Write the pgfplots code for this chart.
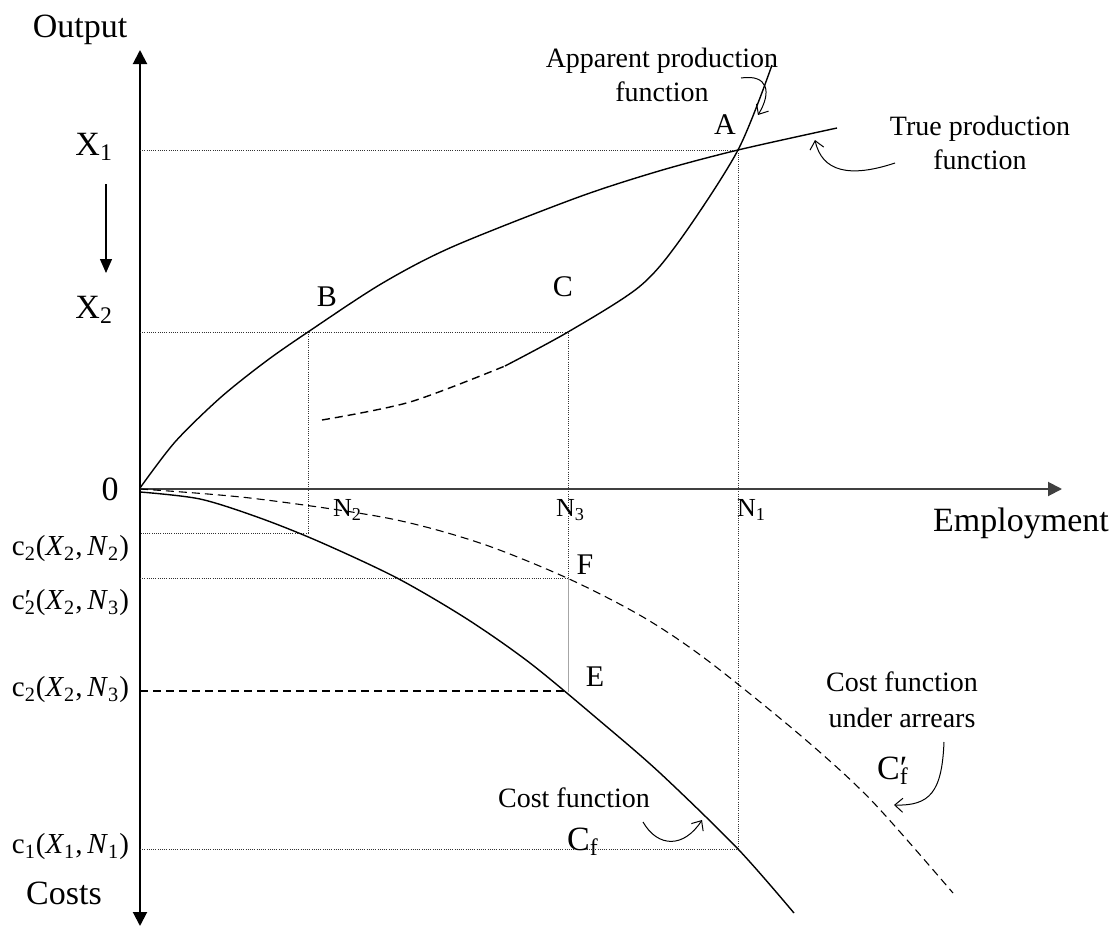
\documentclass[border=0pt]{standalone}
\usepackage{pgfplots}
\pgfplotsset{compat=1.18}
\usepackage{fontspec}
\setmainfont{Liberation Serif}
\usetikzlibrary{arrows.meta}
\newcommand{\fs}[1]{\fontsize{#1}{#1}\selectfont}
\begin{document}
\begin{tikzpicture}
\begin{axis}[hide axis, scale only axis, width=558pt, height=463.5pt,
  xmin=0, xmax=1116, ymin=0, ymax=927, y dir=reverse, clip=false,
  dotl/.style={line width=0.5pt, black!80, dash pattern=on 0.5pt off 0.6pt},
  every node/.style={inner sep=0pt}]
\coordinate (bl) at (axis cs:0,927);
\coordinate (tr) at (axis cs:1116,0);
% axes
\draw[line width=1pt, -{Triangle[width=7pt,length=7pt]}] (axis cs:140,489) -- (axis cs:140,50);
\draw[line width=1pt, -{Triangle[width=7pt,length=7pt]}] (axis cs:140,489) -- (axis cs:140,926);
\draw[line width=1pt, black!75, -{Triangle[width=7pt,length=7pt]}] (axis cs:140,489) -- (axis cs:1062,489);
\draw[line width=0.6pt, -{Triangle[width=6pt,length=7pt]}] (axis cs:106,184) -- (axis cs:106,273);
% guide lines
\addplot[dotl] coordinates {(140,150) (738,150) (738,849)};
\addplot[dotl] coordinates {(140,332) (568,332) (568,578)};
\addplot[dotl] coordinates {(308,332) (308,533) (140,533)};
\addplot[dotl] coordinates {(140,578) (568,578)};
\addplot[line width=0.5pt, black!35] coordinates {(568,578) (568,692)};
\addplot[dotl] coordinates {(140,849) (738,849)};
\addplot[line width=0.6pt, black, dash pattern=on 4pt off 2.5pt] coordinates {(140,691) (567,691)};
% true production function
\addplot[line width=0.7pt, smooth] coordinates {
(140,488) (175,442) (220,398) (265,362) (308,332) (381,284) (452,247)
(576,198) (659,171) (738,150) (837,128)};
% apparent production function
\addplot[line width=0.7pt, smooth, dash pattern=on 4pt off 2.5pt] coordinates {
(322,420) (410,402) (505,366)};
\addplot[line width=0.7pt, smooth] coordinates {
(505,366) (568,332) (639,287) (680,240) (738,150) (772,65)};
% cost function
\addplot[line width=0.7pt, smooth] coordinates {
(140,492) (200,499) (260,518) (320,542) (397,578) (467,619) (530,663)
(600,721) (660,773) (738,849) (794,913)};
% cost function under arrears
\addplot[line width=0.55pt, smooth, dash pattern=on 4pt off 2.5pt] coordinates {
(140,489) (250,498) (387,518) (480,543) (567,578) (643,617) (707,660)
(800,735) (871,800) (953,893)};
% annotation arrows
\draw[line width=0.5pt, -{Straight Barb[length=4pt,width=7pt]}] (axis cs:741,78) .. controls (axis cs:768,74) and (axis cs:772,92) .. (axis cs:758,115);
\draw[line width=0.5pt, -{Straight Barb[length=4pt,width=7pt]}] (axis cs:895,163) .. controls (axis cs:850,178) and (axis cs:822,172) .. (axis cs:815,140);
\draw[line width=0.5pt, -{Straight Barb[length=4pt,width=7pt]}] (axis cs:643,822) .. controls (axis cs:658,848) and (axis cs:684,848) .. (axis cs:702,820);
\draw[line width=0.5pt, -{Straight Barb[length=4pt,width=7pt]}] (axis cs:944,742) .. controls (axis cs:942,792) and (axis cs:930,806) .. (axis cs:894,805);
% labels
\node[font=\fs{17}] at (axis cs:80,30) {Output};
\node[font=\fs{17}] at (axis cs:64,893) {Costs};
\node[font=\fs{17}] at (axis cs:1021,523) {Employment};
\node[font=\fs{17}] at (axis cs:110,489) {0};
\node[font=\fs{17}, anchor=east] at (axis cs:120,147) {X\textsubscript{1}};
\node[font=\fs{17}, anchor=east] at (axis cs:120,310) {X\textsubscript{2}};
\node[font=\fs{13}, anchor=west] at (axis cs:326,510) {N\textsubscript{2}};
\node[font=\fs{13}, anchor=west] at (axis cs:549,510) {N\textsubscript{3}};
\node[font=\fs{13}, anchor=west] at (axis cs:730,510) {N\textsubscript{1}};
\node[font=\fs{14.5}, anchor=east] at (axis cs:136,549) {c\textsubscript{2}(\textit{X}\textsubscript{2},\,\textit{N}\textsubscript{2})};
\node[font=\fs{14.5}, anchor=east] at (axis cs:136,603) {c\rlap{′}\textsubscript{2}(\textit{X}\textsubscript{2},\,\textit{N}\textsubscript{3})};
\node[font=\fs{14.5}, anchor=east] at (axis cs:136,690) {c\textsubscript{2}(\textit{X}\textsubscript{2},\,\textit{N}\textsubscript{3})};
\node[font=\fs{14.5}, anchor=east] at (axis cs:136,847) {c\textsubscript{1}(\textit{X}\textsubscript{1},\,\textit{N}\textsubscript{1})};
\node[font=\fs{15}] at (axis cs:725,125) {A};
\node[font=\fs{15}] at (axis cs:327,297) {B};
\node[font=\fs{15}] at (axis cs:563,287) {C};
\node[font=\fs{15}] at (axis cs:595,677) {E};
\node[font=\fs{15}] at (axis cs:585,565) {F};
\node[font=\fontsize{14}{17}\selectfont, align=center] at (axis cs:662,75) {Apparent production\\function};
\node[font=\fontsize{14}{17}\selectfont, align=center] at (axis cs:980,143) {True production\\function};
\node[font=\fontsize{14}{18}\selectfont, align=center] at (axis cs:902,700) {Cost function\\under arrears};
\node[font=\fs{17}] at (axis cs:893,771) {C\rlap{′}\textsubscript{f}};
\node[font=\fs{14}] at (axis cs:574,798) {Cost function};
\node[font=\fs{17}] at (axis cs:583,842) {C\textsubscript{f}};
\end{axis}
\pgfresetboundingbox
\path (bl) rectangle (tr);
\end{tikzpicture}
\end{document}
